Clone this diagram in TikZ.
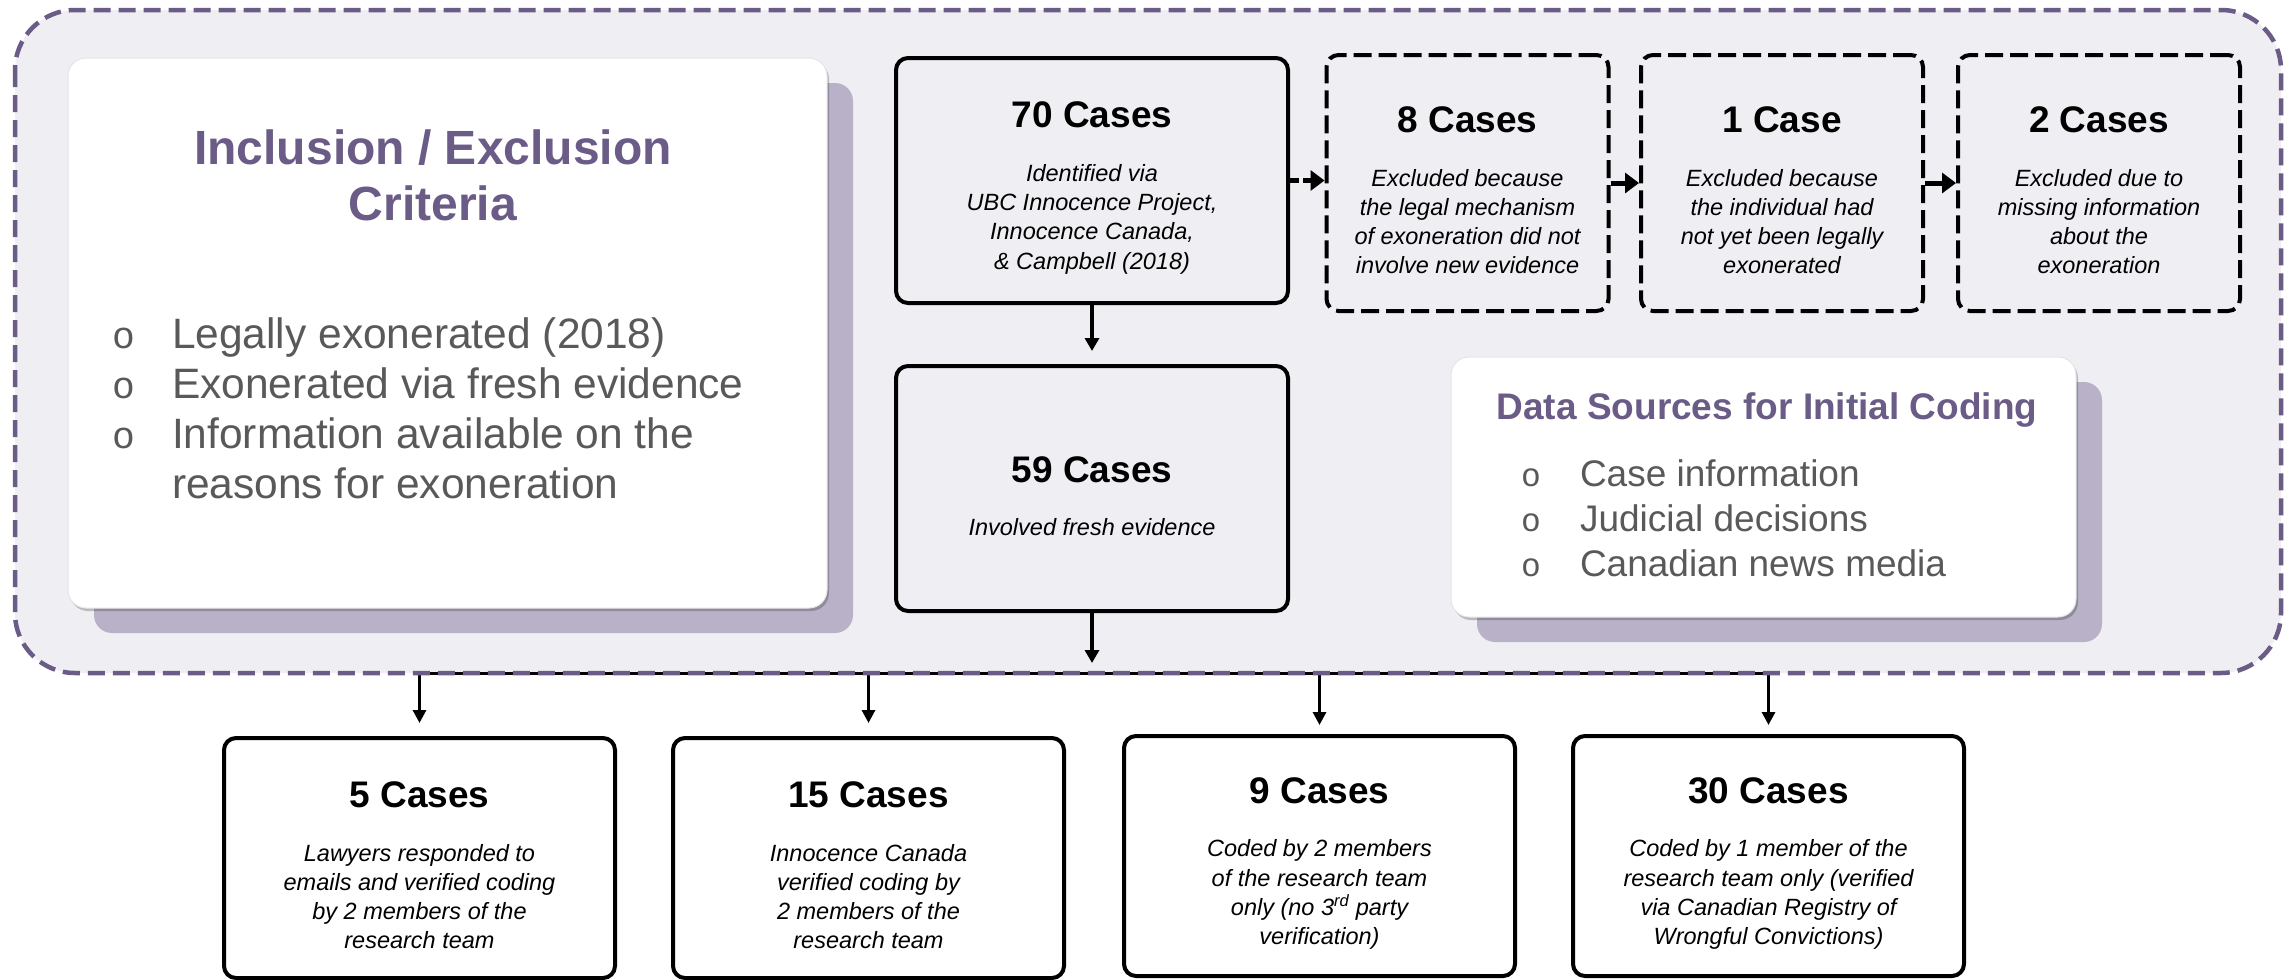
\documentclass[tikz,border=0pt]{standalone}
\usepackage{fontspec}
\setmainfont{Liberation Sans}
\newfontfamily\bulletfont{Liberation Mono}
\usepackage{tikz}
\usetikzlibrary{arrows.meta,shadows,calc}

\definecolor{panelbg}{RGB}{239,238,243}
\definecolor{critpurple}{RGB}{107,91,135}
\definecolor{cardshade}{RGB}{185,177,200}
\definecolor{listgray}{RGB}{89,89,89}

\newcommand\casetitle[1]{{\fontsize{37}{44}\selectfont\bfseries\upshape\rule{0pt}{41pt}#1}\\[24pt]}

\begin{document}
\begin{tikzpicture}[x=1pt,y=-1pt,
    casebox/.style={draw=black, line width=4pt, rounded corners=12pt, fill=panelbg,
        align=center, inner sep=0pt, minimum width=392pt, minimum height=245pt,
        font=\fontsize{23.5}{29.3}\selectfont\itshape},
    exclbox/.style={casebox, dash pattern=on 18pt off 7pt, minimum width=282pt, minimum height=256pt},
    finalbox/.style={casebox, fill=white, minimum width=391pt, minimum height=240pt},
    card/.style={fill=white, draw=black!10, line width=1pt, rounded corners=18pt, inner sep=0pt,
        general shadow={fill=cardshade, draw=none, shadow xshift=26pt, shadow yshift=-25pt},
        general shadow={fill=black, draw=none, opacity=.22, shadow xshift=2pt, shadow yshift=-3pt}},
    cardtitle/.style={text=critpurple, align=center, font=\bfseries},
    arr/.style={line width=4pt, -{Triangle[length=13pt,width=14pt]}},
    thinarr/.style={line width=3pt, -{Triangle[length=13pt,width=13pt]}},
    stubarr/.style={line width=5pt, -{Triangle[length=14pt,width=20pt]}}
]
    \useasboundingbox (0,0) rectangle (2295,980);
    % outer panel
    \fill[panelbg, rounded corners=60pt] (15,10) rectangle (2281,673);

    % criteria cards
    \node[card, minimum width=759pt, minimum height=550pt] (incl) at (447.5,333) {};
    \node[cardtitle, font=\fontsize{48}{56}\selectfont\bfseries] (incltitle) at (433,175) {Inclusion / Exclusion\\Criteria};
    \node[anchor=base west, inner sep=0pt, text=listgray, font=\fontsize{42.5}{50}\selectfont] (incllist) at (112,348)
        {\begin{tabular}[t]{@{}l@{\hspace{37pt}}l@{}}
            {\bulletfont\fontsize{38}{38}\selectfont o} & Legally exonerated (2018)\\
            {\bulletfont\fontsize{38}{38}\selectfont o} & Exonerated via fresh evidence\\
            {\bulletfont\fontsize{38}{38}\selectfont o} & Information available on the\\
                            & reasons for exoneration
        \end{tabular}};

    \node[card, minimum width=625pt, minimum height=260pt] (src) at (1763.5,487) {};
    \node[cardtitle, font=\fontsize{37}{44}\selectfont\bfseries] (srctitle) at (1767,410) {Data Sources for Initial Coding};
    \node[anchor=base west, inner sep=0pt, text=listgray, font=\fontsize{37}{45}\selectfont] (srclist) at (1521,486)
        {\begin{tabular}[t]{@{}l@{\hspace{39pt}}l@{}}
            {\bulletfont\fontsize{33}{33}\selectfont o} & Case information\\
            {\bulletfont\fontsize{33}{33}\selectfont o} & Judicial decisions\\
            {\bulletfont\fontsize{33}{33}\selectfont o} & Canadian news media
        \end{tabular}};

    % case counts
    \node[casebox] (c70) at (1092,180.5) {\casetitle{70 Cases}Identified via\\UBC Innocence Project,\\Innocence Canada,\\\& Campbell (2018)};
    \node[casebox] (c59) at (1092,488.5) {\casetitle{59 Cases}Involved fresh evidence};
    \node[exclbox] (c8) at (1467.5,183) {\casetitle{8 Cases}Excluded because\\the legal mechanism\\of exoneration did not\\involve new evidence};
    \node[exclbox] (c1) at (1782,183) {\casetitle{1 Case}Excluded because\\the individual had\\not yet been legally\\exonerated};
    \node[exclbox] (c2) at (2099,183) {\casetitle{2 Cases}Excluded due to\\missing information\\about the\\exoneration};

    \node[finalbox] (b5) at (419.5,858) {\casetitle{5 Cases}Lawyers responded to\\emails and verified coding\\by 2 members of the\\research team};
    \node[finalbox] (b15) at (868.5,858) {\casetitle{15 Cases}Innocence Canada\\verified coding by\\2 members of the\\research team};
    \node[finalbox] (b9) at (1319.5,856) {\casetitle{9 Cases}Coded by 2 members\\of the research team\\only (no 3\textsuperscript{rd} party\\verification)};
    \node[finalbox] (b30) at (1768.5,856) {\casetitle{30 Cases}Coded by 1 member of the\\research team only (verified\\via Canadian Registry of\\Wrongful Convictions)};

    % connectors
    \coordinate (split) at (1092,673);
    \draw[stubarr, dash pattern=on 9pt off 4pt] (c70.east) -- (c70.east -| c8.west);
    \draw[stubarr] (c8.east) -- (c8.east -| c1.west);
    \draw[stubarr] (c1.east) -- (c1.east -| c2.west);
    \draw[arr] (c70.south) -- ([yshift=13pt]c59.north);
    \draw[arr] (c59.south) -- ([yshift=10pt]split);
    \draw[line width=3pt] (b5.north |- split) -- (b30.north |- split);
    \draw[thinarr] (b5.north |- split) -- ([yshift=13pt]b5.north);
    \draw[thinarr] (b15.north |- split) -- ([yshift=13pt]b15.north);
    \draw[thinarr] (b9.north |- split) -- ([yshift=9pt]b9.north);
    \draw[thinarr] (b30.north |- split) -- ([yshift=9pt]b30.north);

    % panel border on top
    \draw[critpurple, line width=4.5pt, dash pattern=on 17pt off 8pt, rounded corners=60pt] (15,10) rectangle (2281,673);
\end{tikzpicture}
\end{document}
